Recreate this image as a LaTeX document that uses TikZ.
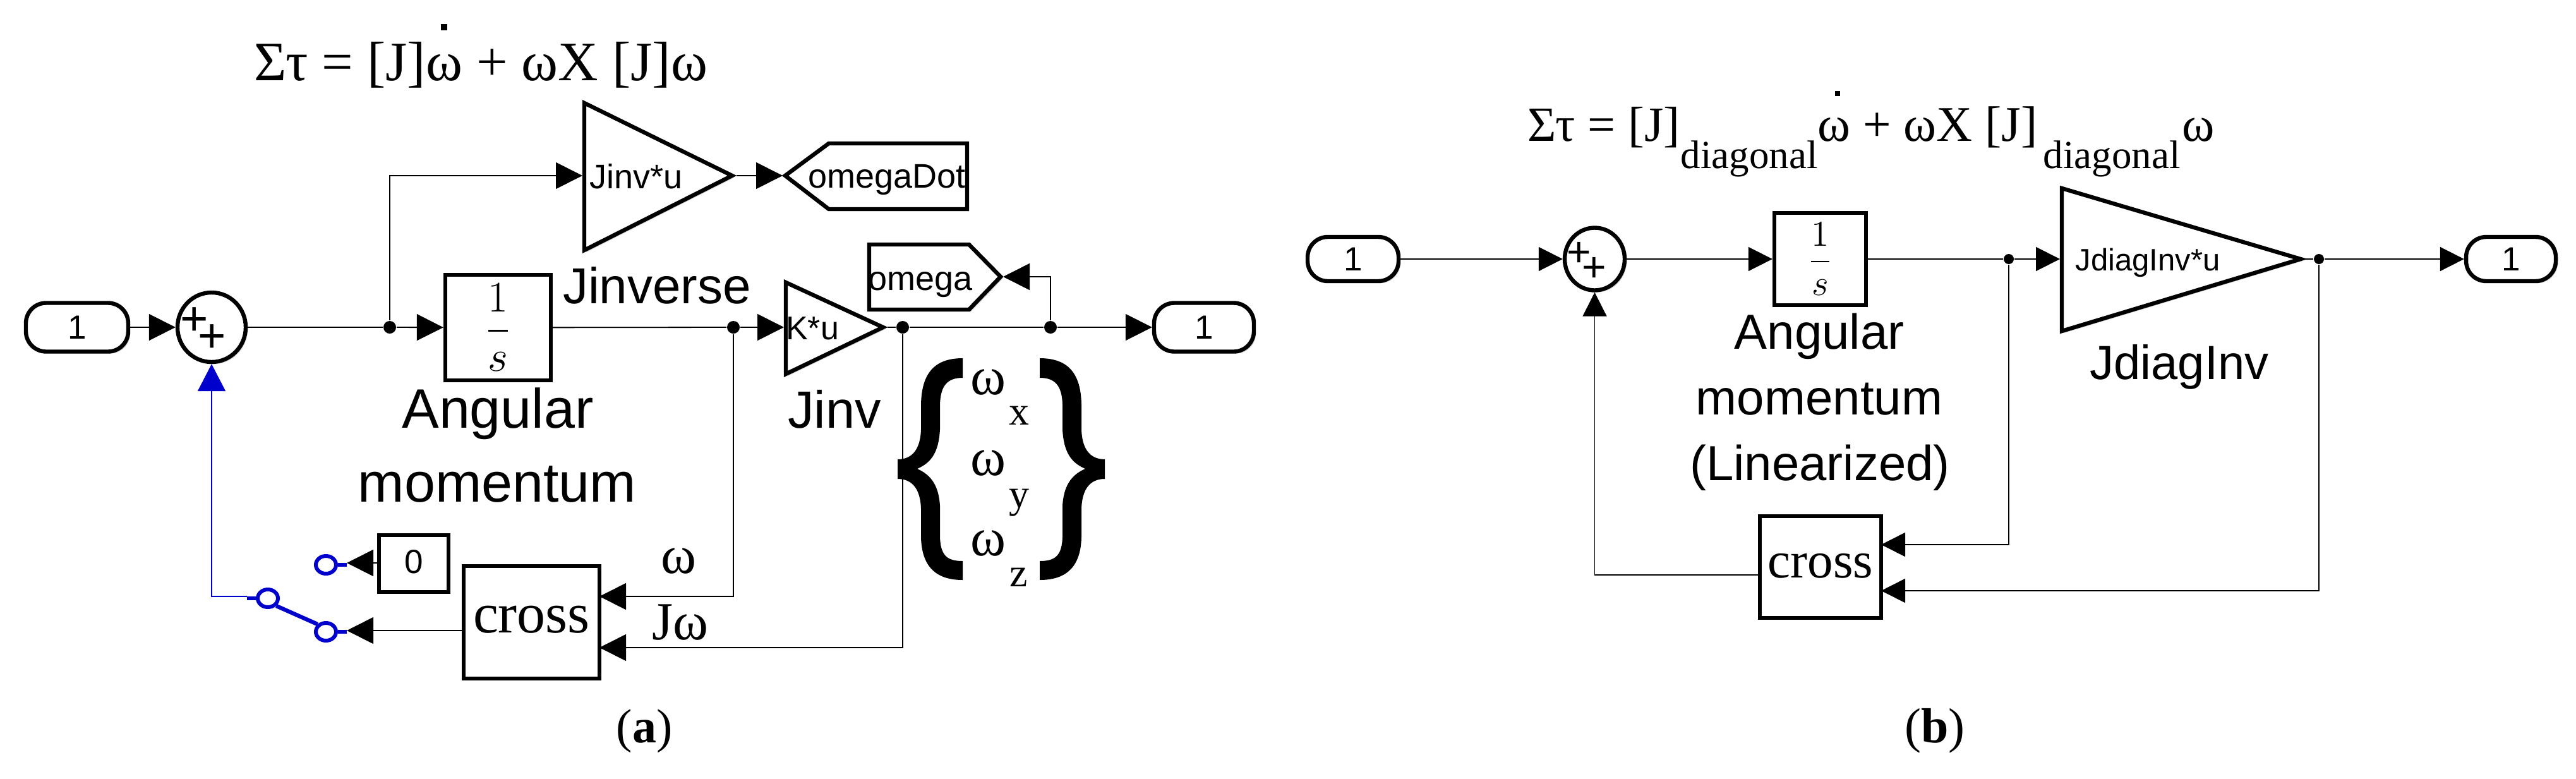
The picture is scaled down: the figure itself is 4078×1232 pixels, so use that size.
\documentclass[tikz,border=0pt]{standalone}
\usepackage{amsmath}
\usepackage{fontspec}
\setmainfont{Liberation Sans}
\newfontfamily\serifface{Liberation Serif}
\usetikzlibrary{arrows.meta,shapes.geometric,shadows}

\definecolor{switchblue}{RGB}{0,0,204}

\tikzset{
  softshadow/.style={drop shadow={shadow xshift=0.8pt,shadow yshift=-0.8pt,opacity=0.35}},
  block/.style={draw=black,fill=white,line width=1.6pt,inner sep=0,softshadow},
  port/.style={block,rounded corners=8pt},
  summer/.style={block,ellipse},
  junction/.style={circle,fill=black,inner sep=0,minimum size=#1},
  wire/.style={line width=0.45pt,-{Triangle[length=#1,width=#1]}},
  wire/.default=10.5pt,
  plainwire/.style={line width=0.45pt},
  bluewire/.style={draw=switchblue,line width=0.45pt,-{Triangle[length=10.75pt,width=11pt,fill=switchblue]}},
  contact/.style={ellipse,draw=switchblue,fill=white,line width=1.5pt,inner sep=0,minimum width=8pt,minimum height=7pt},
  switchline/.style={draw=switchblue,line width=1.6pt},
  sanstext/.style={font=\fontsize{#1}{#1}\selectfont,inner sep=0,anchor=base},
  seriftext/.style={font=\serifface\fontsize{#1}{#1}\selectfont,inner sep=0,anchor=base},
  bracefill/.style={fill=black,draw=none},
}

\begin{document}
\begin{tikzpicture}[x=0.25pt,y=0.25pt,yscale=-1,xscale=1]
\useasboundingbox (0,0) rectangle (4078,1232);

%%%%%%%%%%%%%%%%%%%%%%%%%%%%%%%%%%%%%%%%%%%%%%%%%%%%%%%%%%%%%%%%%%%%%%%%

\node (eqA) [seriftext=22,anchor=base west] at (402,127) {Στ = [J]ω + ωX [J]ω};
\fill (698,38) rectangle (708,48);

\node (inA) [port,minimum width=40.5pt,minimum height=19.25pt,font=\fontsize{13.25}{15}\selectfont] at (122,518) {1};
\node (sumA) [summer,minimum width=27pt,minimum height=27.5pt] at (335,518) {};
\node (plusAa) [sanstext=19,anchor=center] at (308,509) {+};
\node (plusAb) [sanstext=19,anchor=center] at (336,536) {+};
\node (intA) [block,minimum width=41.75pt,minimum height=41.75pt] at (788.5,518.5) {\fontsize{17.28}{20}\selectfont$\dfrac{1}{s}$};
\node (outA) [port,minimum width=39.5pt,minimum height=19.25pt,font=\fontsize{13.25}{15}\selectfont] at (1906,518) {1};

\draw [block] (925,163) -- (1159,278) -- (925,396) -- cycle;
\node (jinvText) [sanstext=13.5] at (1007,298) {Jinv*u};
\node (jinvName) [sanstext=20] at (1040,480) {Jinverse};
\coordinate (jinvIn) at (922,278);
\coordinate (jinvOut) at (1166,278);

\draw [block] (1243,278) -- (1312,227) -- (1531,227) -- (1531,331) -- (1312,331) -- cycle;
\node (omegaDotText) [sanstext=13.5] at (1404,297) {omegaDot};
\coordinate (omegaDotIn) at (1239,278);

\draw [block] (1244,447) -- (1398,518) -- (1244,592) -- cycle;
\node (kuText) [sanstext=13] at (1286,537) {K*u};
\node (kuName) [sanstext=20.75] at (1321,677) {Jinv};
\coordinate (kuIn) at (1241,518);
\coordinate (kuOut) at (1405,518);

\draw [block] (1376,387) -- (1534,387) -- (1584,438) -- (1534,490) -- (1376,490) -- cycle;
\node (omegaText) [sanstext=13.5] at (1457,459) {omega};
\coordinate (omegaIn) at (1588,438);

\node (dotAa) [junction=5pt] at (617,518) {};
\node (dotAb) [junction=5pt] at (1161,518) {};
\node (dotAc) [junction=5pt] at (1429,518) {};
\node (dotAd) [junction=5pt] at (1663,518) {};

\node (angularA) [sanstext=22] at (788,677) {Angular};
\node (momentumA) [sanstext=22] at (787,794) {momentum};

\node (constZero) [block,minimum width=27.5pt,minimum height=22.5pt,font=\fontsize{13.25}{15}\selectfont] at (655,892) {\raisebox{1.75pt}{0}};
\node (crossA) [block,minimum width=53.75pt,minimum height=44.5pt,font=\serifface\fontsize{22.5}{24}\selectfont] at (841.5,985) {\raisebox{2.25pt}{cross}};
\coordinate (crossAinT) at (949,944);
\coordinate (crossAinB) at (949,1025);
\coordinate (crossAout) at (734,998);

\node (omegaLbl) [seriftext=21.25] at (1074,907) {ω};
\node (jomegaLbl) [seriftext=21.25,anchor=base west] at (1032,1012) {Jω};

% blue switch
\node (swLeft) [contact] at (424,947) {};
\node (swTop) [contact] at (516,894) {};
\node (swBot) [contact] at (516,1000) {};
\draw [switchline] (391,947) -- (swLeft.west);
\draw [switchline] (swTop.east) -- (549,894);
\draw [switchline] (swBot.east) -- (549,1000);
\draw [switchline] (swLeft.south east) -- (swBot.north west);
\coordinate (swTopIn) at (549,891);
\coordinate (swBotIn) at (549,998);
\coordinate (swOut) at (391,944);

\draw [wire] (inA) -- (sumA);
\draw [plainwire] (sumA) -- (dotAa);
\draw [wire] (dotAa) -- (intA);
\draw [wire] (dotAa) |- (jinvIn);
\draw [wire] (jinvOut) -- (omegaDotIn);
\draw [plainwire] (intA) -- (dotAb);
\draw [wire] (dotAb) -- (kuIn);
\draw [plainwire] (kuOut) -- (dotAc) -- (dotAd);
\draw [wire] (dotAd) -- (outA);
\draw [wire] (dotAd) |- (omegaIn);
\draw [wire] (dotAb) |- (crossAinT);
\draw [wire] (dotAc) |- (crossAinB);
\draw [wire] (crossAout) -- (swBotIn);
\draw [wire] (constZero.west |- swTopIn) -- (swTopIn);
\draw [bluewire] (swOut) -| (sumA.south);

% braces and vector
\fill [bracefill] (1524,567) .. controls (1480,567) and (1459,590) .. (1458,640) -- (1458,680) .. controls (1457,710) and (1445,727) .. (1421,727) -- (1421,758) .. controls (1445,758) and (1457,775) .. (1458,805) -- (1458,850) .. controls (1459,895) and (1480,918) .. (1524,918) -- (1524,888) .. controls (1500,888) and (1489,880) .. (1488,850) -- (1488,800) .. controls (1486,770) and (1475,752) .. (1452,742) .. controls (1475,732) and (1486,715) .. (1488,680) -- (1488,640) .. controls (1489,610) and (1500,598) .. (1524,598) -- cycle;
\fill [bracefill] (1646,567) .. controls (1690,567) and (1711,590) .. (1712,640) -- (1712,680) .. controls (1713,710) and (1725,727) .. (1749,727) -- (1749,758) .. controls (1725,758) and (1713,775) .. (1712,805) -- (1712,850) .. controls (1711,895) and (1690,918) .. (1646,918) -- (1646,888) .. controls (1670,888) and (1681,880) .. (1682,850) -- (1682,800) .. controls (1684,770) and (1695,752) .. (1718,742) .. controls (1695,732) and (1684,715) .. (1682,680) -- (1682,640) .. controls (1681,610) and (1670,598) .. (1646,598) -- cycle;

\node (omegaX) [seriftext=21.25] at (1564,624) {ω};
\node (subX) [seriftext=16] at (1613,672) {x};
\node (omegaY) [seriftext=21.25] at (1564,752) {ω};
\node (subY) [seriftext=16] at (1613,803) {y};
\node (omegaZ) [seriftext=21.25] at (1564,879) {ω};
\node (subZ) [seriftext=16] at (1613,928) {z};

\node (captionA) [seriftext=19] at (1020,1175) {(\textbf{a})};

%%%%%%%%%%%%%%%%%%%%%%%%%%%%%%%%%%%%%%%%%%%%%%%%%%%%%%%%%%%%%%%%%%%%%%%%

\node (eqBa) [seriftext=19.5,anchor=base west] at (2418,223) {Στ = [J]};
\node (eqBb) [seriftext=15.75,anchor=base west] at (2660,266) {diagonal};
\node (eqBc) [seriftext=19.75,anchor=base west] at (2877,223) {ω + ωX [J]};
\node (eqBd) [seriftext=15.75,anchor=base west] at (3234,266) {diagonal};
\node (eqBe) [seriftext=19.5,anchor=base west] at (3454,223) {ω};
\fill (2905,144) rectangle (2913,152);

\node (inB) [port,minimum width=36pt,minimum height=17.5pt,font=\fontsize{13.25}{15}\selectfont] at (2142,410) {1};
\node (sumB) [summer,minimum width=23.75pt,minimum height=24.75pt] at (2524.5,410) {};
\node (plusBa) [sanstext=16.5,anchor=center] at (2500,402) {+};
\node (plusBb) [sanstext=16.5,anchor=center] at (2524,426) {+};
\node (intB) [block,minimum width=36.25pt,minimum height=36.5pt] at (2881.5,410) {\fontsize{14.4}{17}\selectfont$\dfrac{1}{s}$};
\node (outB) [port,minimum width=35.5pt,minimum height=17.5pt,font=\fontsize{13.25}{15}\selectfont] at (3975,410) {1};

\draw [block] (3264,298) -- (3642,410) -- (3264,524) -- cycle;
\node (jdiagText) [sanstext=12.25] at (3400,428) {JdiagInv*u};
\node (jdiagName) [sanstext=19] at (3450,600) {JdiagInv};
\coordinate (jdiagIn) at (3261,410);
\coordinate (jdiagOut) at (3649,410);

\node (dotBa) [junction=4pt] at (3180,410) {};
\node (dotBb) [junction=4pt] at (3671,410) {};

\node (angularB) [sanstext=19.5] at (2880,552) {Angular};
\node (momentumB) [sanstext=19.5] at (2880,656) {momentum};
\node (linearB) [sanstext=19.5] at (2881,760) {(Linearized)};

\node (crossB) [block,minimum width=48pt,minimum height=40.25pt,font=\serifface\fontsize{20.25}{22}\selectfont] at (2882,897.5) {\raisebox{1.25pt}{cross}};
\coordinate (crossBinT) at (2978,862);
\coordinate (crossBinB) at (2978,935);
\coordinate (crossBout) at (2786,910);

\draw [wire=9.5pt] (inB) -- (sumB);
\draw [wire=9.5pt] (sumB) -- (intB);
\draw [plainwire] (intB) -- (dotBa);
\draw [wire=9.5pt] (dotBa) -- (jdiagIn);
\draw [plainwire] (jdiagOut) -- (dotBb);
\draw [wire=9.5pt] (dotBb) -- (outB);
\draw [wire=9.5pt] (dotBa) |- (crossBinT);
\draw [wire=9.5pt] (dotBb) |- (crossBinB);
\draw [wire=9.5pt] (crossBout) -| (sumB.south);

\node (captionB) [seriftext=19.5] at (3063,1175) {(\textbf{b})};

%%%%%%%%%%%%%%%%%%%%%%%%%%%%%%%%%%%%%%%%%%%%%%%%%%%%%%%%%%%%%%%%%%%%%%%%

\end{tikzpicture}
\end{document}
